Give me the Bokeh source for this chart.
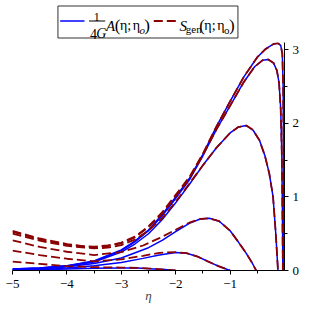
from bokeh.plotting import figure
from bokeh.models import Range1d, FixedTicker
from bokeh.layouts import column
from bokeh.embed import file_html
from bokeh.resources import INLINE
from bokeh.core.properties import value

# ---------------- data ----------------
# (1/4G) A(eta; eta_o) curves, one per eta_o
A1_eta = [-5.0, -4.5, -4.0, -3.5, -3.0, -2.75, -2.5, -2.25, -2.0, -1.75, -1.5, -1.25, -1.0, -0.75, -0.5, -0.35, -0.2, -0.12, -0.07, -0.04, -0.025, -0.015, -0.008]
A1_val = [0.02, 0.035, 0.065, 0.13, 0.28, 0.40, 0.55, 0.76, 1.0, 1.25, 1.58, 1.96, 2.3, 2.63, 2.9, 3.01, 3.08, 3.09, 3.06, 2.95, 2.5, 1.4, 0.0]
A2_eta = [-5.0, -4.5, -4.0, -3.5, -3.0, -2.75, -2.5, -2.25, -2.0, -1.75, -1.5, -1.25, -1.0, -0.75, -0.55, -0.4, -0.3, -0.2, -0.14, -0.1, -0.07, -0.05, -0.04, -0.03]
A2_val = [0.02, 0.034, 0.063, 0.125, 0.27, 0.39, 0.54, 0.74, 0.98, 1.23, 1.56, 1.92, 2.24, 2.56, 2.77, 2.86, 2.87, 2.82, 2.72, 2.55, 2.2, 1.6, 0.9, 0.0]
A3_eta = [-5.0, -4.5, -4.0, -3.5, -3.0, -2.75, -2.5, -2.25, -2.0, -1.75, -1.5, -1.25, -1.0, -0.85, -0.7, -0.58, -0.46, -0.36, -0.28, -0.21, -0.16, -0.12]
A3_val = [0.018, 0.03, 0.058, 0.115, 0.25, 0.36, 0.5, 0.69, 0.92, 1.17, 1.43, 1.67, 1.87, 1.95, 1.97, 1.91, 1.77, 1.56, 1.32, 1.0, 0.5, 0.0]
A4_eta = [-5.0, -4.5, -4.0, -3.5, -3.0, -2.5, -2.25, -2.0, -1.75, -1.55, -1.38, -1.2, -1.0, -0.85, -0.7, -0.6, -0.52]
A4_val = [0.012, 0.025, 0.05, 0.095, 0.17, 0.31, 0.41, 0.53, 0.64, 0.7, 0.71, 0.67, 0.54, 0.39, 0.23, 0.11, 0.0]
A5_eta = [-5.0, -4.5, -4.0, -3.5, -3.0, -2.6, -2.3, -2.0, -1.8, -1.6, -1.4, -1.2, -1.0]
A5_val = [0.008, 0.016, 0.035, 0.065, 0.11, 0.165, 0.21, 0.245, 0.235, 0.19, 0.12, 0.055, 0.0]
A6_eta = [-5.0, -4.5, -4.0, -3.5, -3.0, -2.7, -2.4, -2.2, -2.0]
A6_val = [0.004, 0.01, 0.02, 0.03, 0.035, 0.033, 0.022, 0.012, 0.0]

# S_gen(eta; eta_o) curves, one per eta_o
S1_eta = [-5.0, -4.5, -4.0, -3.7, -3.5, -3.25, -3.0, -2.75, -2.5, -2.25, -2.0, -1.75, -1.5, -1.25, -1.0, -0.75, -0.5, -0.35, -0.2, -0.12, -0.07, -0.04, -0.025, -0.015, -0.008]
S1_val = [0.54, 0.435, 0.36, 0.33, 0.325, 0.34, 0.38, 0.46, 0.6, 0.79, 1.03, 1.27, 1.59, 1.96, 2.3, 2.63, 2.9, 3.01, 3.08, 3.09, 3.06, 2.95, 2.5, 1.4, 0.0]
S2_eta = [-5.0, -4.5, -4.0, -3.5, -3.25, -3.0, -2.75, -2.5, -2.25, -2.0, -1.75, -1.5, -1.25, -1.0, -0.75, -0.55, -0.4, -0.3, -0.2, -0.14, -0.1, -0.07, -0.05, -0.04, -0.03]
S2_val = [0.525, 0.425, 0.35, 0.315, 0.33, 0.37, 0.45, 0.59, 0.77, 1.01, 1.25, 1.57, 1.92, 2.24, 2.56, 2.77, 2.86, 2.87, 2.82, 2.72, 2.55, 2.2, 1.6, 0.9, 0.0]
S3_eta = [-5.0, -4.5, -4.0, -3.5, -3.25, -3.0, -2.75, -2.5, -2.25, -2.0, -1.75, -1.5, -1.25, -1.0, -0.85, -0.7, -0.58, -0.46, -0.36, -0.28, -0.21, -0.16, -0.12]
S3_val = [0.50, 0.405, 0.335, 0.30, 0.31, 0.345, 0.42, 0.545, 0.71, 0.935, 1.18, 1.43, 1.67, 1.87, 1.95, 1.97, 1.91, 1.77, 1.56, 1.32, 1.0, 0.5, 0.0]
S4_eta = [-5.0, -4.5, -4.0, -3.5, -3.0, -2.6, -2.3, -2.0, -1.75, -1.55, -1.38, -1.2, -1.0, -0.85, -0.7, -0.6, -0.52]
S4_val = [0.41, 0.32, 0.255, 0.21, 0.25, 0.34, 0.44, 0.555, 0.65, 0.7, 0.71, 0.67, 0.54, 0.39, 0.23, 0.11, 0.0]
S5_eta = [-5.0, -4.5, -4.0, -3.5, -3.0, -2.6, -2.3, -2.0, -1.8, -1.6, -1.4, -1.2, -1.0]
S5_val = [0.27, 0.21, 0.16, 0.125, 0.15, 0.2, 0.24, 0.25, 0.235, 0.19, 0.12, 0.055, 0.0]
S6_eta = [-5.0, -4.5, -4.0, -3.5, -3.0, -2.7, -2.4, -2.2, -2.0]
S6_val = [0.12, 0.09, 0.06, 0.045, 0.04, 0.035, 0.023, 0.012, 0.0]

x_ticks = [-5.0, -4.0, -3.0, -2.0, -1.0]
x_tick_labels = ["\u22125", "\u22124", "\u22123", "\u22122", "\u22121"]
x_minor = [-4.5, -3.5, -2.5, -1.5, -0.5]
y_ticks = [0.0, 1.0, 2.0, 3.0]
y_tick_labels = ["0", "1", "2", "3"]
y_minor = [0.5, 1.5, 2.5]

# ---------------- styles ----------------
FONT = "Liberation Serif"
BLUE = "#0000FF"
RED = "#8B0000"
W = 300

p = figure(frame_width=272, frame_height=228,
           x_range=Range1d(-5, 0), y_range=Range1d(0, 3.1),
           y_axis_location="right", toolbar_location=None, output_backend="svg",
           min_border_left=12, min_border_right=0, min_border_top=2, min_border_bottom=0)
p.grid.visible = False
p.outline_line_color = None

blue_sets = [(A1_eta, A1_val), (A2_eta, A2_val), (A3_eta, A3_val),
             (A4_eta, A4_val), (A5_eta, A5_val), (A6_eta, A6_val)]
red_sets = [(S1_eta, S1_val), (S2_eta, S2_val), (S3_eta, S3_val),
            (S4_eta, S4_val), (S5_eta, S5_val), (S6_eta, S6_val)]
for e, v in blue_sets:
    p.line(e, v, line_color=BLUE, line_width=1.5)
for e, v in red_sets:
    p.line(e, v, line_color=RED, line_width=1.8, line_dash="9 4")

xa = p.xaxis[0]
xa.ticker = FixedTicker(ticks=x_ticks, minor_ticks=x_minor)
xa.major_label_overrides = dict(zip(x_ticks, x_tick_labels))
xa.axis_label = "\u03b7"
xa.axis_label_text_font = FONT
xa.axis_label_text_font_style = "italic"
xa.axis_label_text_font_size = "13px"
xa.axis_label_standoff = -3
ya = p.yaxis[0]
ya.ticker = FixedTicker(ticks=y_ticks, minor_ticks=y_minor)
ya.major_label_overrides = dict(zip(y_ticks, y_tick_labels))
for ax in (xa, ya):
    ax.axis_line_color = "black"
    ax.major_tick_line_color = "black"
    ax.minor_tick_line_color = "black"
    ax.major_tick_in = 0
    ax.major_tick_out = 4
    ax.minor_tick_in = 0
    ax.minor_tick_out = 3
    ax.major_label_text_font = FONT
    ax.major_label_text_font_size = "13px"
    ax.major_label_text_color = "black"
xa.major_label_standoff = 5
ya.major_label_standoff = 4

# ---------------- legend (drawn in its own pixel-like figure) ----------------
LH = 40
leg = figure(width=W, height=LH, x_range=Range1d(0, W), y_range=Range1d(LH, 0),
             toolbar_location=None, output_backend="svg", min_border=0,
             x_axis_location=None, y_axis_location=None)
leg.grid.visible = False
leg.outline_line_color = None
leg.quad(left=[50.5], right=[250.5], top=[5.5], bottom=[37.5],
         fill_color=None, line_color="#333333", line_width=1)
leg.line([53, 80], [20.5, 20.5], line_color=BLUE, line_width=1.5)
leg.line([157, 183], [20.5, 20.5], line_color=RED, line_width=1.8, line_dash="9 4")
leg.line([85, 103], [20.5, 20.5], line_color="black", line_width=1)


def txt(x, y, s, size, style="normal", align="left"):
    leg.text(x=[x], y=[y], text=[s], text_font=value(FONT), text_font_size=size,
             text_font_style=style, text_baseline="alphabetic", text_align=align,
             text_color="black")


txt(93.5, 16, "1", "12px", align="center")
txt(86, 33, "4", "14px")
txt(93, 33, "G", "14px", "italic")
txt(104, 25, "A", "15px", "italic")
txt(113.5, 24.5, "(", "17px")
txt(119.5, 25, "\u03b7", "14px")
txt(127.5, 25, ";", "14px")
txt(133.5, 25, "\u03b7", "14px")
txt(141, 29.5, "o", "11px", "italic")
txt(146.5, 24.5, ")", "17px")
txt(185.5, 25, "S", "15px", "italic")
txt(192.5, 28, "gen", "11px")
txt(207.5, 24.5, "(", "17px")
txt(213, 25, "\u03b7", "14px")
txt(221.5, 25, ";", "14px")
txt(227.5, 25, "\u03b7", "14px")
txt(235, 29.5, "o", "11px")
txt(240.5, 24.5, ")", "17px")

layout = column(leg, p, spacing=0)
open("out.html", "w").write(file_html(layout, INLINE))
